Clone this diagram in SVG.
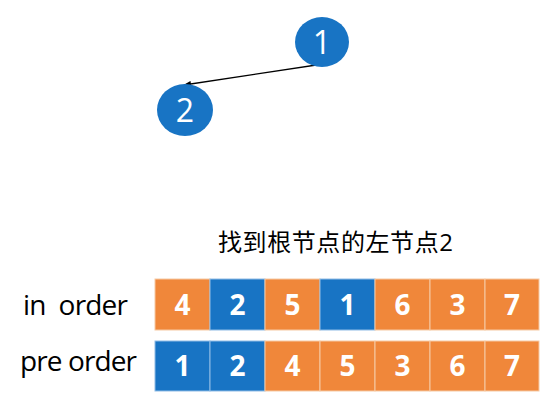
<svg xmlns="http://www.w3.org/2000/svg" width="557" height="407" viewBox="0 0 557 407">
<style>
.node{fill:#1874C4}
.nt{fill:#fff;font-family:"Open Sans","Liberation Sans",sans-serif;font-size:32px;text-anchor:middle}
.o{fill:#F0873A;stroke:#F6C9A4;stroke-width:1}
.b{fill:#1874C4;stroke:#8FBCE6;stroke-width:1}
.ct{fill:#fff;font-family:"Open Sans","Liberation Sans",sans-serif;font-weight:bold;font-size:28px;text-anchor:middle}
.lbl{fill:#000;font-family:"Open Sans","Liberation Sans",sans-serif;font-size:28px}
.title{fill:#000;font-family:"Open Sans","Noto Sans CJK SC",sans-serif;font-size:24px}
</style>
<defs>
<marker id="ah" markerWidth="8" markerHeight="6" refX="7" refY="3" orient="auto" markerUnits="userSpaceOnUse">
<path d="M0,0 L8,3 L0,6 z" fill="#000"/>
</marker>
</defs>
<g id="connectors">
<line x1="323" y1="64" x2="184" y2="85" stroke="#000" stroke-width="1.3" marker-end="url(#ah)"/>
</g>
<g id="node1">
<ellipse class="node" cx="322" cy="42" rx="27" ry="25"/>
<text class="nt" x="322" y="54">1</text>
</g>
<g id="node2">
<ellipse class="node" cx="185" cy="110" rx="28" ry="26"/>
<text class="nt" x="185" y="122">2</text>
</g>
<g id="title">
<text class="title" x="218" y="251" textLength="235">找到根节点的左节点2</text>
</g>
<g id="labels">
<text class="lbl" x="23" y="315" textLength="105" xml:space="preserve">in  order</text>
<text class="lbl" x="20" y="371" textLength="117">pre order</text>
</g>
<g id="inorder">
<rect class="o" x="155" y="279" width="55" height="51"/>
<rect class="b" x="210" y="279" width="55" height="51"/>
<rect class="o" x="265" y="279" width="55" height="51"/>
<rect class="b" x="320" y="279" width="55" height="51"/>
<rect class="o" x="375" y="279" width="55" height="51"/>
<rect class="o" x="430" y="279" width="55" height="51"/>
<rect class="o" x="485" y="279" width="54" height="51"/>
<text class="ct" x="182.5" y="315">4</text>
<text class="ct" x="237.5" y="315">2</text>
<text class="ct" x="292.5" y="315">5</text>
<text class="ct" x="347.5" y="315">1</text>
<text class="ct" x="402.5" y="315">6</text>
<text class="ct" x="457.5" y="315">3</text>
<text class="ct" x="512" y="315">7</text>
</g>
<g id="preorder">
<rect class="b" x="155" y="341" width="55" height="50"/>
<rect class="b" x="210" y="341" width="55" height="50"/>
<rect class="o" x="265" y="341" width="55" height="50"/>
<rect class="o" x="320" y="341" width="55" height="50"/>
<rect class="o" x="375" y="341" width="55" height="50"/>
<rect class="o" x="430" y="341" width="55" height="50"/>
<rect class="o" x="485" y="341" width="54" height="50"/>
<text class="ct" x="182.5" y="376">1</text>
<text class="ct" x="237.5" y="376">2</text>
<text class="ct" x="292.5" y="376">4</text>
<text class="ct" x="347.5" y="376">5</text>
<text class="ct" x="402.5" y="376">3</text>
<text class="ct" x="457.5" y="376">6</text>
<text class="ct" x="512" y="376">7</text>
</g>
</svg>
